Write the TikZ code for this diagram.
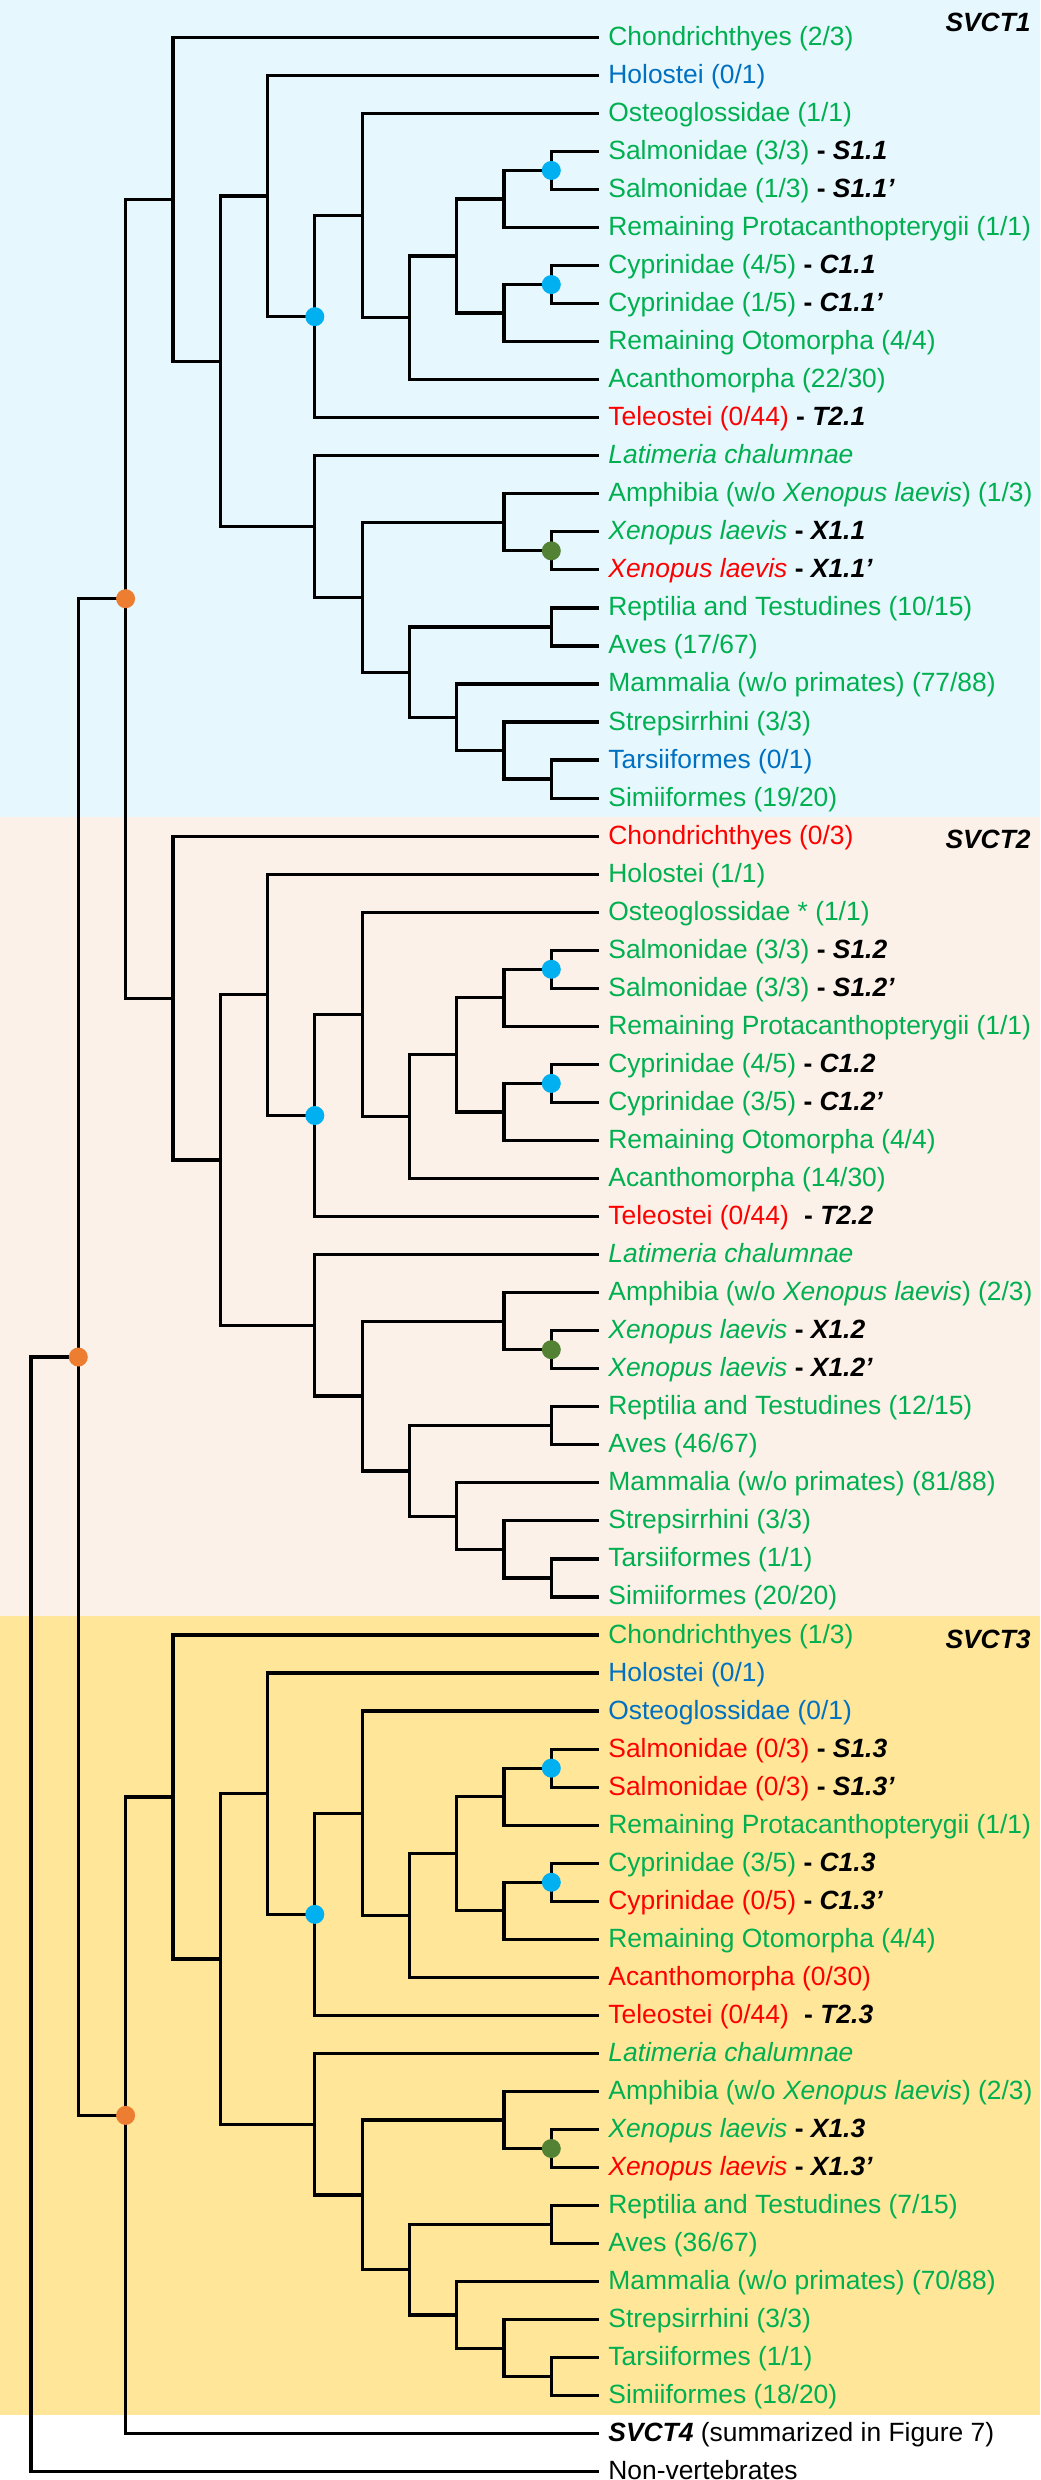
\documentclass[tikz,border=0pt]{standalone}
\usepackage{fontspec}
\setmainfont{Liberation Sans}

\definecolor{grn}{HTML}{00B050}
\definecolor{rd}{HTML}{FF0000}
\definecolor{blu}{HTML}{0070C0}
\definecolor{dotblue}{HTML}{00B0F0}
\definecolor{dotorange}{HTML}{ED7D31}
\definecolor{dotgreen}{HTML}{548235}
\definecolor{bgblue}{HTML}{E6F7FE}
\definecolor{bgbeige}{HTML}{FBF1E8}
\definecolor{bggold}{HTML}{FFE699}

\newcommand{\sv}[1]{\textcolor{black}{\bfseries - \textit{#1}}}
\newcommand{\svp}{\symbol{39}}
\newcommand{\xl}{\textit{Xenopus laevis}}

\tikzset{
  branch/.style={line width=1.6pt, line join=miter},
  leaf/.style={anchor=west, inner xsep=4.7pt, inner ysep=0pt, text height=8pt, text depth=0pt, font=\fontsize{13.2}{15}\selectfont},
  gleaf/.style={leaf, text=grn},
  rleaf/.style={leaf, text=rd},
  bleaf/.style={leaf, text=blu},
  kleaf/.style={leaf, text=black},
  tdot/.style={circle, inner sep=0pt, minimum size=9.5pt},
  sect/.style={anchor=east, inner sep=0pt, text height=9.4pt, text depth=0pt, font=\fontsize{13.2}{15}\selectfont\bfseries\itshape}
}

\begin{document}
\begin{tikzpicture}[x=0.5pt, y=-0.5pt]
\useasboundingbox (0,0) rectangle (1040,2480);
% Section backgrounds
\fill[bgblue] (0,0) rectangle (1040,817);
\fill[bgbeige] (0,817) rectangle (1040,1616);
\fill[bggold] (0,1616) rectangle (1040,2415);
% Section labels
\node[sect] (t1) at (1031,21.7) {SVCT1};
\node[sect] (t2) at (1031,839) {SVCT2};
\node[sect] (t3) at (1031,1639.5) {SVCT3};

\begin{scope}[shift={(31,37.3)}, x=23.65pt, y=-19.02pt]
% SVCT1 leaves
\node[gleaf] (a0) at (12,0) {Chondrichthyes (2/3)};
\node[bleaf] (a1) at (12,1) {Holostei (0/1)};
\node[gleaf] (a2) at (12,2) {Osteoglossidae (1/1)};
\node[gleaf] (a3) at (12,3) {Salmonidae (3/3) \sv{S1.1}};
\node[gleaf] (a4) at (12,4) {Salmonidae (1/3) \sv{S1.1\svp}};
\node[gleaf] (a5) at (12,5) {Remaining Protacanthopterygii (1/1)};
\node[gleaf] (a6) at (12,6) {Cyprinidae (4/5) \sv{C1.1}};
\node[gleaf] (a7) at (12,7) {Cyprinidae (1/5) \sv{C1.1\svp}};
\node[gleaf] (a8) at (12,8) {Remaining Otomorpha (4/4)};
\node[gleaf] (a9) at (12,9) {Acanthomorpha (22/30)};
\node[rleaf] (a10) at (12,10) {Teleostei (0/44) \sv{T2.1}};
\node[gleaf] (a11) at (12,11) {\textit{Latimeria chalumnae}};
\node[gleaf] (a12) at (12,12) {Amphibia (w/o \xl) (1/3)};
\node[gleaf] (a13) at (12,13) {\xl\ \sv{X1.1}};
\node[rleaf] (a14) at (12,14) {\xl\ \sv{X1.1\svp}};
\node[gleaf] (a15) at (12,15) {Reptilia and Testudines (10/15)};
\node[gleaf] (a16) at (12,16) {Aves (17/67)};
\node[gleaf] (a17) at (12,17) {Mammalia (w/o primates) (77/88)};
\node[gleaf] (a18) at (12,18) {Strepsirrhini (3/3)};
\node[bleaf] (a19) at (12,19) {Tarsiiformes (0/1)};
\node[gleaf] (a20) at (12,20) {Simiiformes (19/20)};
% SVCT2 leaves
\node[rleaf] (b0) at (12,21) {Chondrichthyes (0/3)};
\node[gleaf] (b1) at (12,22) {Holostei (1/1)};
\node[gleaf] (b2) at (12,23) {Osteoglossidae * (1/1)};
\node[gleaf] (b3) at (12,24) {Salmonidae (3/3) \sv{S1.2}};
\node[gleaf] (b4) at (12,25) {Salmonidae (3/3) \sv{S1.2\svp}};
\node[gleaf] (b5) at (12,26) {Remaining Protacanthopterygii (1/1)};
\node[gleaf] (b6) at (12,27) {Cyprinidae (4/5) \sv{C1.2}};
\node[gleaf] (b7) at (12,28) {Cyprinidae (3/5) \sv{C1.2\svp}};
\node[gleaf] (b8) at (12,29) {Remaining Otomorpha (4/4)};
\node[gleaf] (b9) at (12,30) {Acanthomorpha (14/30)};
\node[rleaf] (b10) at (12,31) {Teleostei (0/44)\hspace{4pt} \sv{T2.2}};
\node[gleaf] (b11) at (12,32) {\textit{Latimeria chalumnae}};
\node[gleaf] (b12) at (12,33) {Amphibia (w/o \xl) (2/3)};
\node[gleaf] (b13) at (12,34) {\xl\ \sv{X1.2}};
\node[gleaf] (b14) at (12,35) {\xl\ \sv{X1.2\svp}};
\node[gleaf] (b15) at (12,36) {Reptilia and Testudines (12/15)};
\node[gleaf] (b16) at (12,37) {Aves (46/67)};
\node[gleaf] (b17) at (12,38) {Mammalia (w/o primates) (81/88)};
\node[gleaf] (b18) at (12,39) {Strepsirrhini (3/3)};
\node[gleaf] (b19) at (12,40) {Tarsiiformes (1/1)};
\node[gleaf] (b20) at (12,41) {Simiiformes (20/20)};
% SVCT3 leaves
\node[gleaf] (c0) at (12,42) {Chondrichthyes (1/3)};
\node[bleaf] (c1) at (12,43) {Holostei (0/1)};
\node[bleaf] (c2) at (12,44) {Osteoglossidae (0/1)};
\node[rleaf] (c3) at (12,45) {Salmonidae (0/3) \sv{S1.3}};
\node[rleaf] (c4) at (12,46) {Salmonidae (0/3) \sv{S1.3\svp}};
\node[gleaf] (c5) at (12,47) {Remaining Protacanthopterygii (1/1)};
\node[gleaf] (c6) at (12,48) {Cyprinidae (3/5) \sv{C1.3}};
\node[rleaf] (c7) at (12,49) {Cyprinidae (0/5) \sv{C1.3\svp}};
\node[gleaf] (c8) at (12,50) {Remaining Otomorpha (4/4)};
\node[rleaf] (c9) at (12,51) {Acanthomorpha (0/30)};
\node[rleaf] (c10) at (12,52) {Teleostei (0/44)\hspace{4pt} \sv{T2.3}};
\node[gleaf] (c11) at (12,53) {\textit{Latimeria chalumnae}};
\node[gleaf] (c12) at (12,54) {Amphibia (w/o \xl) (2/3)};
\node[gleaf] (c13) at (12,55) {\xl\ \sv{X1.3}};
\node[rleaf] (c14) at (12,56) {\xl\ \sv{X1.3\svp}};
\node[gleaf] (c15) at (12,57) {Reptilia and Testudines (7/15)};
\node[gleaf] (c16) at (12,58) {Aves (36/67)};
\node[gleaf] (c17) at (12,59) {Mammalia (w/o primates) (70/88)};
\node[gleaf] (c18) at (12,60) {Strepsirrhini (3/3)};
\node[gleaf] (c19) at (12,61) {Tarsiiformes (1/1)};
\node[gleaf] (c20) at (12,62) {Simiiformes (18/20)};
% Outgroups
\node[kleaf] (svct4) at (12,63) {\textbf{\textit{SVCT4}} (summarized in Figure 7)};
\node[kleaf] (nv) at (12,64) {Non-vertebrates};

% Same topology in each SVCT1-3 clade
\foreach \s/\o in {a/0, b/21, c/42} {
  \foreach \n/\lx/\ly in {salm/11/3.5, protac/10/4.25, cypr/11/6.5, otom/10/7.25,
      clup/9/5.75, neot/8/7.375, osteo/7/4.6875, tele/6/7.34375, actino/5/4.171875,
      xen/11/13.5, amph/10/12.75, saur/11/15.5, hapl/11/19.5, prim/10/18.75,
      mamm/9/17.875, amni/8/16.6875, tetra/7/14.71875, sarco/6/12.859375,
      osteich/4/8.515625, root/3/4.2578125}
    \coordinate (\s-\n) at (\lx,\o+\ly);
  \foreach \p/\a/\b in {salm/3.west/4.west, protac/-salm/5.west, cypr/6.west/7.west,
      otom/-cypr/8.west, clup/-protac/-otom, neot/-clup/9.west, osteo/2.west/-neot,
      tele/-osteo/10.west, actino/1.west/-tele, xen/13.west/14.west, amph/12.west/-xen,
      saur/15.west/16.west, hapl/19.west/20.west, prim/18.west/-hapl, mamm/17.west/-prim,
      amni/-saur/-mamm, tetra/-amph/-amni, sarco/11.west/-tetra, osteich/-actino/-sarco,
      root/0.west/-osteich}
    \draw[branch] (\s\a) -| (\s-\p) |- (\s\b);
  % Duplication dots
  \foreach \d in {tele, salm, cypr}
    \node[tdot, fill=dotblue] (\s-\d-dot) at (\s-\d) {};
  \node[tdot, fill=dotgreen] (\s-xen-dot) at (\s-xen) {};
}

% Backbone
\coordinate (u1) at (2,14.7578125);
\coordinate (u3) at (2,54.62890625);
\coordinate (u2) at (1,34.693359375);
\coordinate (base) at (0,49.3466796875);
\draw[branch] (a-root) -| (u1) |- (b-root);
\draw[branch] (c-root) -| (u3) |- (svct4.west);
\draw[branch] (u1) -| (u2) |- (u3);
\draw[branch] (u2) -| (base) |- (nv.west);
\node[tdot, fill=dotorange] (u1-dot) at (u1) {};
\node[tdot, fill=dotorange] (u2-dot) at (u2) {};
\node[tdot, fill=dotorange] (u3-dot) at (u3) {};
\end{scope}
\end{tikzpicture}
\end{document}
